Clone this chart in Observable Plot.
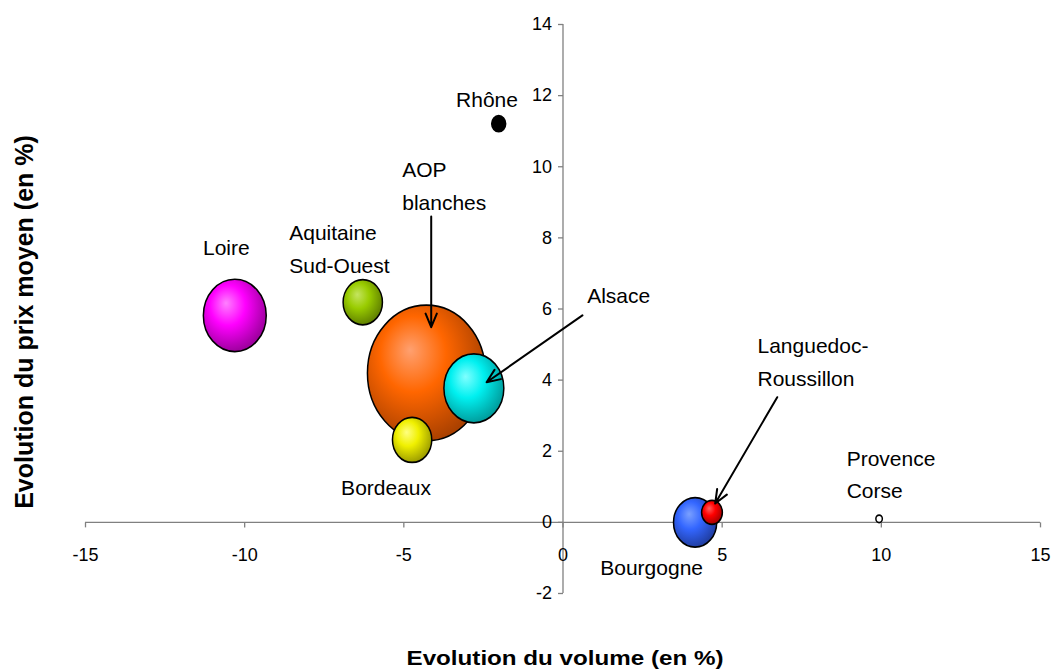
<!DOCTYPE html>
<html><head><meta charset="utf-8">
<script src="https://cdn.jsdelivr.net/npm/d3@7"></script>
<script src="https://cdn.jsdelivr.net/npm/@observablehq/plot@0.6"></script>
<style>
html,body{margin:0;padding:0;background:#fff;}
#chart svg{display:block;}
</style></head><body><div id="chart"></div>
<script>
// ---- data ----
const regions = ["AOP blanches","Loire","Alsace","Bourgogne","Aquitaine Sud-Ouest","Bordeaux","Languedoc-Roussillon","Rhône","Provence Corse"];
const volumeChange = [-4.29,-10.31,-2.80,4.15,-6.29,-4.74,4.68,-2.02,9.93];
const priceChange  = [4.20,5.82,3.77,0.00,6.19,2.32,0.28,11.21,0.10];
const bubbleSize   = [100,28.4,25.8,13.4,11.1,11.1,3.1,1.4,0.3];
const baseColors  = ["#FF6600","#FF00FF","#00F0F0","#3366FF","#99CC00","#F0F000","#FF0000","#000000","#FFFFFF"];
const lightColors = ["#FFA070","#FF80FF","#80FFFF","#7AA0FF","#C4E460","#FFFF80","#FF6060","#000000","#FFFFFF"];
const darkColors  = ["#A84000","#9A009A","#009A9A","#1F3C9E","#5E7D00","#9A9A00","#A00000","#000000","#FFFFFF"];

const labelText = ["Rhône","AOP\nblanches","Loire","Aquitaine\nSud-Ouest","Alsace","Languedoc-\nRoussillon","Provence\nCorse","Bordeaux","Bourgogne"];
const labelX = [-3.36,-5.05,-11.31,-8.60,0.76,6.11,8.91,-6.97,1.17];
const labelY = [11.86,9.43,7.70,7.65,6.35,4.48,1.32,0.96,-1.29];

const arrowFromX = [-4.14,0.61,6.73];
const arrowFromY = [8.60,5.82,3.52];
const arrowToX   = [-4.14,-2.40,4.78];
const arrowToY   = [5.49,3.94,0.53];

const xTicks = [-15,-10,-5,0,5,10,15];
const yTicks = [-2,0,2,4,6,8,10,12,14];
const xTitle = "Evolution du volume (en %)";
const yTitle = "Evolution du prix moyen (en %)";

// ---- tables ----
const bubbles = regions.map((name,i)=>({name, x: volumeChange[i], y: priceChange[i], size: bubbleSize[i], fill: `url(#g${i})`}))
  .sort((a,b)=>b.size-a.size);
const labels = labelText.map((t,i)=>({t, x: labelX[i], y: labelY[i]}));
const arrows = arrowFromX.map((_,i)=>({x1: arrowFromX[i], y1: arrowFromY[i], x2: arrowToX[i], y2: arrowToY[i]}));

const tickDown = {draw(ctx){ ctx.moveTo(0,0); ctx.lineTo(0,5); }};
const tickLeft = {draw(ctx){ ctx.moveTo(0,0); ctx.lineTo(-5,0); }};
const axisColor = "#808080";

const plot = Plot.plot({
  width: 1052, height: 670,
  marginLeft: 85, marginRight: 12, marginTop: 24, marginBottom: 77,
  style: {fontFamily: "'Liberation Sans', Arial, sans-serif", background: "#fff", color: "#000"},
  x: {domain: [-15, 15], axis: null},
  y: {domain: [-2, 14], axis: null},
  r: {type: "sqrt", domain: [0, 100], range: [0, 59]},
  color: {type: "identity"},
  marks: [
    Plot.ruleY([0], {stroke: axisColor, strokeWidth: 1.3}),
    Plot.ruleX([0], {stroke: axisColor, strokeWidth: 1.3}),
    Plot.dot(xTicks, {x: d=>d, y: ()=>0, symbol: tickDown, fill: "none", stroke: axisColor, strokeWidth: 1.3}),
    Plot.dot(yTicks, {x: ()=>0, y: d=>d, symbol: tickLeft, fill: "none", stroke: axisColor, strokeWidth: 1.3}),
    Plot.text(xTicks, {x: d=>d, y: ()=>0, text: d=>String(d), dy: 33, fontSize: 18, fill: "#000"}),
    Plot.text(yTicks, {x: ()=>0, y: d=>d, text: d=>String(d), dx: -11, textAnchor: "end", fontSize: 18, fill: "#000"}),
    Plot.dot(bubbles, {x: "x", y: "y", r: "size", fill: "fill", stroke: "#000", strokeWidth: 1.5, sort: null}),
    Plot.arrow(arrows, {x1: "x1", y1: "y1", x2: "x2", y2: "y2", stroke: "#000", strokeWidth: 2, headLength: 11, headAngle: 45}),
    Plot.text(labels, {x: "x", y: "y", text: "t", textAnchor: "start", lineAnchor: "middle", lineHeight: 1.57, dy: -4, fontSize: 21, fill: "#000"}),
    Plot.text([xTitle], {frameAnchor: "bottom", text: d=>d, textAnchor: "middle", lineAnchor: "middle", dy: 65, dx: 2, fontSize: 21, fontWeight: "bold", fill: "#000"}),
    Plot.text([yTitle], {frameAnchor: "left", text: d=>d, rotate: -90, textAnchor: "middle", lineAnchor: "middle", dx: -61, dy: 13, fontSize: 25, fontWeight: "bold", fill: "#000"})
  ]
});
document.getElementById("chart").appendChild(plot);

// gradients for 3D bubbles
const svg = d3.select(plot.tagName.toLowerCase() === "svg" ? plot : plot.querySelector("svg"));
const defs = svg.insert("defs", ":first-child");
regions.forEach((r,i)=>{
  const g = defs.append("radialGradient").attr("id", "g"+i)
    .attr("cx", 0.42).attr("cy", 0.4).attr("r", 0.62).attr("fx", 0.36).attr("fy", 0.33);
  g.append("stop").attr("offset", "0%").attr("stop-color", lightColors[i]);
  g.append("stop").attr("offset", "45%").attr("stop-color", baseColors[i]);
  g.append("stop").attr("offset", "100%").attr("stop-color", darkColors[i]);
});
// bubbles are slightly elliptical in the original
svg.selectAll("circle")
  .style("transform-box", "fill-box").style("transform-origin", "center").style("transform", "scaleY(1.15)");
// stretch x title to original extent
svg.selectAll("text").filter(function(){ return this.textContent === xTitle; })
  .attr("textLength", 317).attr("lengthAdjust", "spacingAndGlyphs");
</script></body></html>
